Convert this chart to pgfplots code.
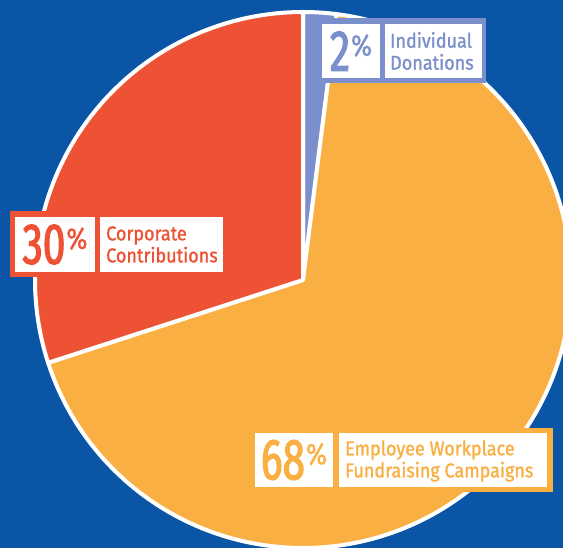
\documentclass[border=0pt]{standalone}
\usepackage{pgfplots}
\pgfplotsset{compat=1.18}
\usepackage{fontspec}
\setmainfont{Fira Sans}
\newfontfamily\cond[FakeStretch=0.70, FakeBold=2]{Fira Sans}
\newfontfamily\condpct[FakeStretch=0.85, FakeBold=1]{Fira Sans}
\newfontfamily\condtxt[FakeStretch=0.90, FakeBold=1.2]{Fira Sans}
\definecolor{bgblue}{HTML}{0A55A5}
\definecolor{cOrange}{HTML}{F9AF42}
\definecolor{cRed}{HTML}{EE5235}
\definecolor{cPurple}{HTML}{7A8FCB}
% values (percent)
\def\vInd{2}
\def\vEmp{68}
\def\vCor{30}
\pgfmathsetmacro{\aA}{90}
\pgfmathsetmacro{\aB}{90-3.6*\vInd}
\pgfmathsetmacro{\aC}{\aB-3.6*\vEmp}
\pgfmathsetmacro{\aD}{\aC-3.6*\vCor}
\newcommand{\bignum}[1]{{\cond\fontsize{58}{58}\selectfont #1\kern1pt\raisebox{15pt}{\condpct\fontsize{30}{30}\selectfont\%}}}
\newcommand{\lbl}{\condtxt\fontsize{20}{22}\selectfont}
\begin{document}
\begin{tikzpicture}
\begin{axis}[hide axis, scale only axis, width=563pt, height=548pt,
  xmin=0, xmax=563, ymin=0, ymax=548, clip=true]
\fill[bgblue] (axis cs:0,0) rectangle (axis cs:563,548);
\addplot[fill=cPurple, draw=white, line width=4pt, line join=round, domain=\aB:\aA, samples=20, variable=\t]
  ({303+268*cos(t)}, {268+268*sin(t)}) -- (axis cs:303,268) -- cycle;
\addplot[fill=cOrange, draw=white, line width=4pt, line join=round, domain=\aC:\aB, samples=200, variable=\t]
  ({303+268*cos(t)}, {268+268*sin(t)}) -- (axis cs:303,268) -- cycle;
\addplot[fill=cRed, draw=white, line width=4pt, line join=round, domain=\aD:\aC, samples=100, variable=\t]
  ({303+268*cos(t)}, {268+268*sin(t)}) -- (axis cs:303,268) -- cycle;
% Individual label
\fill[cPurple] (axis cs:308,465) rectangle (axis cs:486,530);
\fill[white] (axis cs:322,470) rectangle (axis cs:380,524);
\fill[white] (axis cs:385,470) rectangle (axis cs:482,524);
\node[text=cPurple, inner sep=0pt] at (axis cs:351,497) {\bignum{2}};
\node[text=cPurple, anchor=west, align=left, inner sep=0pt, font=\lbl] at (axis cs:390,497) {Individual\\Donations};
% Corporate label
\fill[cRed] (axis cs:10,271) rectangle (axis cs:228,337);
\fill[white] (axis cs:15,276) rectangle (axis cs:95,331);
\fill[white] (axis cs:100,276) rectangle (axis cs:223,331);
\node[text=cRed, inner sep=0pt] at (axis cs:55,303.5) {\bignum{30}};
\node[text=cRed, anchor=west, align=left, inner sep=0pt, font=\lbl] at (axis cs:106,303.5) {Corporate\\Contributions};
% Employee label
\fill[cOrange] (axis cs:250,56) rectangle (axis cs:553,120);
\fill[white] (axis cs:255,61) rectangle (axis cs:333,115);
\fill[white] (axis cs:339,61) rectangle (axis cs:547,115);
\node[text=cOrange, inner sep=0pt] at (axis cs:294,88) {\bignum{68}};
\node[text=cOrange, anchor=west, align=left, inner sep=0pt, font=\lbl] at (axis cs:345,87) {Employee Workplace\\Fundraising Campaigns};
\end{axis}
\pgfresetboundingbox
\path[use as bounding box] (current axis.south west) rectangle (current axis.north east);
\end{tikzpicture}
\end{document}
